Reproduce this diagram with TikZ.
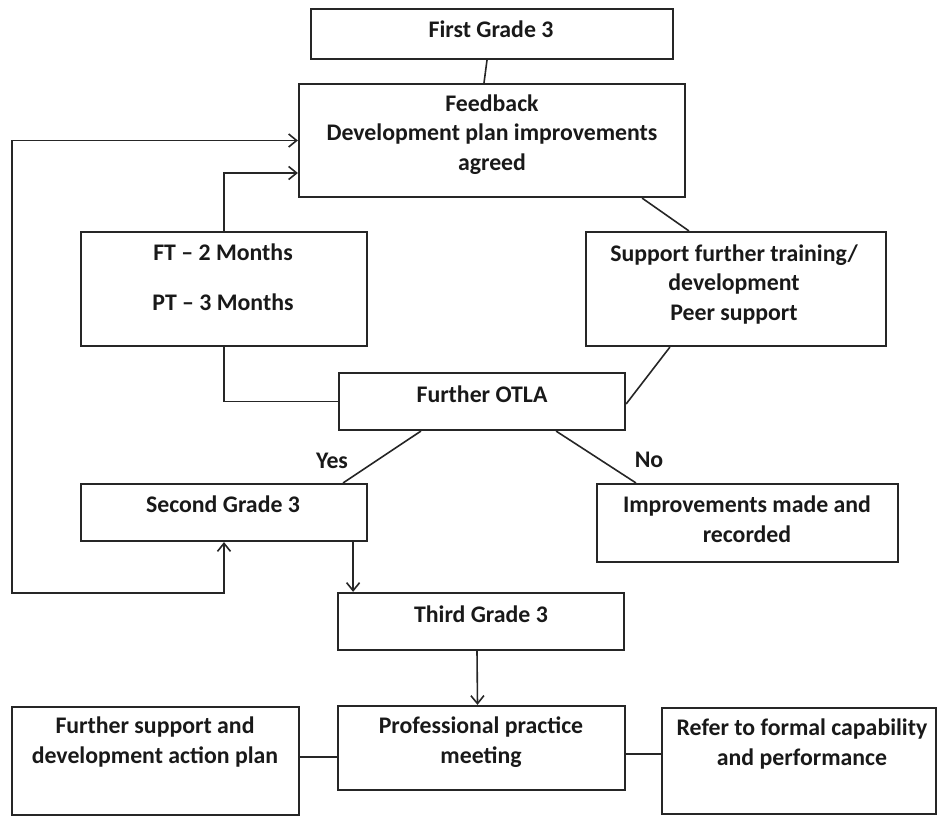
\documentclass[tikz,border=0pt]{standalone}
\usepackage{fontspec}
\setmainfont{Carlito}
\usetikzlibrary{arrows.meta}
\begin{document}
\begin{tikzpicture}[x=1pt,y=-1pt,
  box/.style={draw=black!85, line width=2.2pt, inner sep=0pt, rectangle},
  txt/.style={font=\bfseries\fontsize{23.8}{29.5}\selectfont, align=center, inner sep=0pt, anchor=base, text=black!90},
  conn/.style={draw=black!85, line width=1.6pt},
  arr/.style={conn, -{Straight Barb[length=8pt,width=13pt]}},
  darr/.style={conn, {Straight Barb[length=8pt,width=13pt]}-{Straight Barb[length=8pt,width=13pt]}}]
\useasboundingbox (0,0) rectangle (939,817);
% boxes
\node[box, minimum width=362, minimum height=50]  (fg3)  at (492,34)    {};
\node[box, minimum width=386, minimum height=113] (fb)   at (492,140.5) {};
\node[box, minimum width=286, minimum height=114] (ft)   at (224,289)   {};
\node[box, minimum width=300, minimum height=114] (sup)  at (736,289)   {};
\node[box, minimum width=286, minimum height=57]  (otla) at (482,401.5) {};
\node[box, minimum width=286, minimum height=57]  (g2)   at (224,512.5) {};
\node[box, minimum width=301, minimum height=78]  (imp)  at (747.5,523) {};
\node[box, minimum width=286, minimum height=57]  (g3)   at (481,621.5) {};
\node[box, minimum width=287, minimum height=108] (fs)   at (155.5,761) {};
\node[box, minimum width=287, minimum height=84]  (pp)   at (481.5,748) {};
\node[box, minimum width=274, minimum height=106] (ref)  at (799,761)   {};
% texts (anchor = baseline of the last line)
\node[txt] (tfg3) at (491,37)  {First Grade 3};
\node[txt] (tfb)  at (492,170) {Feedback\\Development plan improvements\\agreed};
\node[txt] (tft)  at (223,310) {FT – 2 Months\\[20.5pt]PT – 3 Months};
\node[txt] (tsup) at (734,320) {Support further training/\\development\\Peer support};
\node[txt] (totla) at (482,402) {Further OTLA};
\node[txt] (tg2)  at (223,512) {Second Grade 3};
\node[txt] (timp) at (747,542) {Improvements made and\\recorded};
\node[txt] (tg3)  at (481,622) {Third Grade 3};
\node[txt] (tfs)  at (155,763) {Further support and\\development action plan};
\node[txt] (tpp)  at (481,763) {Professional practice\\meeting};
\node[txt] (tref) at (802,765) {Refer to formal capability\\and performance};
\node[txt] (yes)  at (332,468) {Yes};
\node[txt] (no)   at (649,467) {No};
% connectors
\coordinate (loopL) at (12,593);
\draw[conn] ([xshift=-5pt]fg3.south) -- ([xshift=-8pt]fb.north);
\draw[darr] (g2.south) |- (loopL) |- (fb.west);
\draw[arr] (ft.north) |- ([yshift=-32.5pt]fb.west);
\draw[conn] (ft.south) |- (otla.west);
\draw[conn] ([xshift=-44pt]fb.south east) -- ([xshift=104pt]sup.north west);
\draw[conn] ([xshift=85pt]sup.south west) -- ([yshift=-2.5pt]otla.east);
\draw[conn] ([xshift=83pt]otla.south west) -- ([xshift=-25pt]g2.north east);
\draw[conn] ([xshift=-70pt]otla.south east) -- ([xshift=40pt]imp.north west);
\draw[arr] ([xshift=-15pt]g2.south east) -- ([xshift=-15pt]g2.south east |- g3.north);
\draw[arr] ([xshift=-4pt]g3.south) -- ([xshift=-4pt]pp.north);
\draw[conn] ([yshift=-9pt]pp.west) -- ([yshift=-9pt]pp.west -| fs.east);
\draw[conn] ([yshift=-6pt]pp.east) -- ([yshift=-6pt]pp.east -| ref.west);
\end{tikzpicture}
\end{document}
